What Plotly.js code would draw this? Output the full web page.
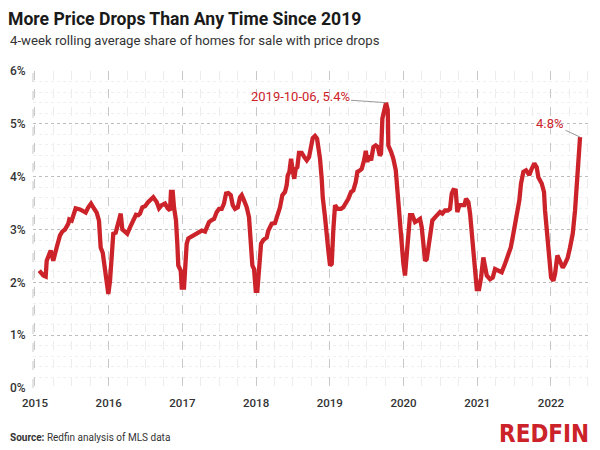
<!DOCTYPE html>
<html>
<head>
<meta charset="utf-8">
<script src="https://cdn.plot.ly/plotly-3.0.1.min.js"></script>
<style>html,body{margin:0;padding:0;background:#fff;}#chart{width:600px;height:450px;}</style>
</head>
<body>
<div id="chart"></div>
<script>
// Decimal year of each reading and share of homes with price drops (%)
const years = [
2015.058,2015.113,2015.145,2015.159,2015.213,2015.248,2015.294,2015.339,2015.370,2015.407,
2015.452,2015.465,2015.498,2015.520,2015.552,2015.611,2015.655,2015.688,2015.723,2015.760,
2015.791,2015.837,2015.868,2015.891,2015.919,2015.950,2015.973,2015.995,2016.018,2016.041,
2016.062,2016.095,2016.130,2016.163,2016.185,2016.221,2016.252,2016.289,2016.334,2016.370,
2016.402,2016.425,2016.456,2016.493,2016.537,2016.605,2016.651,2016.683,2016.719,2016.764,
2016.801,2016.832,2016.845,2016.869,2016.886,2016.913,2016.931,2016.944,2016.977,2016.991,
2017.022,2017.045,2017.058,2017.080,2017.126,2017.171,2017.216,2017.262,2017.307,2017.330,
2017.361,2017.398,2017.429,2017.466,2017.497,2017.533,2017.564,2017.592,2017.623,2017.656,
2017.683,2017.714,2017.751,2017.782,2017.805,2017.836,2017.873,2017.904,2017.931,2017.949,
2017.972,2017.995,2018.017,2018.039,2018.067,2018.098,2018.144,2018.166,2018.212,2018.256,
2018.293,2018.324,2018.356,2018.392,2018.415,2018.429,2018.451,2018.474,2018.497,2018.518,
2018.537,2018.559,2018.582,2018.619,2018.654,2018.687,2018.718,2018.745,2018.768,2018.799,
2018.827,2018.844,2018.867,2018.890,2018.904,2018.935,2018.958,2018.980,2019.003,2019.026,
2019.047,2019.071,2019.107,2019.152,2019.183,2019.216,2019.251,2019.288,2019.319,2019.352,
2019.374,2019.410,2019.433,2019.465,2019.488,2019.509,2019.532,2019.560,2019.591,2019.623,
2019.651,2019.678,2019.695,2019.713,2019.740,2019.763,2019.786,2019.794,2019.831,2019.862,
2019.895,2019.917,2019.940,2019.967,2019.998,2020.020,2020.043,2020.065,2020.088,2020.120,
2020.156,2020.193,2020.224,2020.247,2020.269,2020.292,2020.315,2020.337,2020.369,2020.391,
2020.427,2020.464,2020.495,2020.527,2020.563,2020.600,2020.631,2020.654,2020.676,2020.708,
2020.730,2020.758,2020.790,2020.825,2020.848,2020.880,2020.903,2020.926,2020.948,2020.971,
2020.994,2021.025,2021.052,2021.083,2021.106,2021.129,2021.174,2021.210,2021.242,2021.287,
2021.332,2021.377,2021.422,2021.455,2021.490,2021.536,2021.571,2021.594,2021.626,2021.662,
2021.707,2021.739,2021.775,2021.807,2021.829,2021.875,2021.906,2021.920,2021.951,2021.978,
2022.002,2022.033,2022.056,2022.087,2022.124,2022.161,2022.191,2022.228,2022.259,2022.296,
2022.327,2022.358,2022.395
];
const shares = [
2.22,2.13,2.11,2.41,2.60,2.41,2.66,2.89,2.96,3.00,
3.11,3.19,3.17,3.27,3.40,3.38,3.34,3.32,3.42,3.49,
3.42,3.32,3.17,2.66,2.56,2.28,2.03,1.78,2.03,2.54,
2.92,2.94,3.17,3.30,3.00,2.96,2.92,3.04,3.19,3.28,
3.27,3.30,3.42,3.44,3.52,3.61,3.52,3.40,3.46,3.49,
3.40,3.36,3.71,3.71,3.42,3.17,2.73,2.32,2.22,1.90,
1.90,2.35,2.73,2.83,2.87,2.90,2.95,2.98,2.96,3.03,
3.14,3.18,3.20,3.33,3.39,3.39,3.49,3.68,3.69,3.65,
3.46,3.39,3.42,3.61,3.65,3.55,3.42,3.23,2.79,2.32,
2.25,1.84,1.84,2.35,2.73,2.80,2.85,2.98,3.11,3.12,
3.27,3.42,3.65,3.71,3.84,4.02,4.09,4.34,4.12,3.96,
4.15,4.18,4.45,4.45,4.37,4.31,4.37,4.56,4.73,4.77,
4.72,4.56,4.34,3.96,3.61,3.23,2.98,2.60,2.32,2.35,
2.98,3.46,3.39,3.39,3.42,3.49,3.58,3.71,3.74,3.90,
4.09,4.12,4.15,4.31,4.49,4.28,4.40,4.31,4.56,4.59,
4.56,4.40,4.44,5.10,5.32,5.40,5.26,4.59,4.47,4.34,
4.12,3.74,3.30,2.79,2.35,2.13,2.47,2.98,3.27,3.27,
3.14,3.17,3.20,3.04,2.66,2.41,2.44,2.66,2.98,3.17,
3.23,3.30,3.33,3.30,3.36,3.36,3.39,3.68,3.75,3.74,
3.33,3.46,3.46,3.46,3.58,3.52,3.30,2.92,2.60,2.22,
1.87,1.87,2.09,2.47,2.32,2.13,2.06,2.09,2.25,2.22,
2.19,2.35,2.51,2.66,2.92,3.23,3.55,3.87,4.09,4.12,
4.03,4.15,4.25,4.18,3.99,3.87,3.71,3.36,2.92,2.54,
2.09,2.03,2.16,2.51,2.41,2.28,2.35,2.47,2.66,2.92,
3.36,3.99,4.75
];
const yearTicks = [2015, 2016, 2017, 2018, 2019, 2020, 2021, 2022];
const yearLabels = ["2015", "2016", "2017", "2018", "2019", "2020", "2021", "2022"];
const pctTicks = [0, 1, 2, 3, 4, 5, 6];
const pctLabels = ["0%", "1%", "2%", "3%", "4%", "5%", "6%"];
const peakLabel = "2019-10-06, 5.4%";
const lastLabel = "4.8%";

const red = "#cc2229";
const fontFam = "Roboto, 'Liberation Sans', sans-serif";

const trace = {
  x: years, y: shares, type: "scatter", mode: "lines",
  line: {color: red, width: 4.3, shape: "linear"},
  hoverinfo: "skip"
};

const peakIdx = shares.indexOf(Math.max(...shares));
const lastIdx = shares.length - 1;

const layout = {
  width: 600, height: 450,
  margin: {l: 33, r: 10, t: 71, b: 62},
  paper_bgcolor: "#fff", plot_bgcolor: "#fff",
  showlegend: false,
  font: {family: fontFam, color: "#333"},
  title: {
    text: "<b>More Price Drops Than Any Time Since 2019</b>",
    font: {family: fontFam, size: 17.6, color: "#1a1a1a"},
    xref: "container", yref: "container",
    x: 8/600, xanchor: "left", y: 1 - 19/450, yanchor: "middle"
  },
  xaxis: {
    range: [2014.973, 2022.53],
    tickvals: yearTicks, ticktext: yearLabels,
    showgrid: true, gridcolor: "#c8c8c8", griddash: "dash", gridwidth: 1,
    zeroline: false, showline: false,
    ticks: "outside", ticklen: 4, tickcolor: "rgba(0,0,0,0)",
    tickfont: {family: fontFam, size: 11.5, color: "#333", weight: 500},
    minor: {dtick: 0.25, tick0: 2015, showgrid: true, gridcolor: "#ececec", gridwidth: 1, ticks: ""},
    fixedrange: true
  },
  yaxis: {
    range: [0, 6],
    tickvals: pctTicks, ticktext: pctLabels,
    showgrid: true, gridcolor: "#bdbdbd", griddash: "dot", gridwidth: 1,
    zeroline: false, showline: false,
    ticks: "outside", ticklen: 4, tickcolor: "rgba(0,0,0,0)",
    tickfont: {family: fontFam, size: 12, color: "#333", weight: 500},
    minor: {dtick: 0.2, showgrid: true, gridcolor: "#f0f0f0", gridwidth: 1, ticks: ""},
    fixedrange: true
  },
  shapes: [
    {type: "line", xref: "paper", yref: "paper", x0: 0, x1: 0, y0: 0, y1: 1,
     line: {color: "#c8c8c8", width: 1, dash: "dash"}}
  ],
  annotations: [
    {xref: "paper", yref: "paper", x: -25/557, y: (388-41)/317, xanchor: "left", yanchor: "middle",
     text: "4-week rolling average share of homes for sale with price drops", showarrow: false,
     font: {family: fontFam, size: 13.2, color: "#333"}},
    {x: years[peakIdx], y: shares[peakIdx], text: peakLabel, showarrow: true,
     arrowhead: 0, arrowwidth: 1, arrowcolor: "#999", ax: -86, ay: -6,
     font: {family: fontFam, size: 13, color: red}},
    {x: years[lastIdx], y: shares[lastIdx], text: lastLabel, showarrow: true,
     arrowhead: 0, arrowwidth: 1, arrowcolor: "#999", ax: -30, ay: -14,
     font: {family: fontFam, size: 13, color: red}},
    {xref: "paper", yref: "paper", x: -25/557, y: (388-437)/317, xanchor: "left", yanchor: "middle",
     text: "<b>Source:</b> Redfin analysis of MLS data", showarrow: false,
     font: {family: fontFam, size: 10, color: "#333"}},
    {xref: "paper", yref: "paper", x: 1, y: (388-434)/317, xanchor: "right", yanchor: "middle",
     text: "<b>REDFIN</b>", showarrow: false, borderpad: 0,
     font: {family: "'Liberation Sans Narrow', 'DejaVu Sans Condensed', sans-serif", size: 24, color: red}}
  ]
};

Plotly.newPlot("chart", [trace], layout, {displayModeBar: false, staticPlot: true});
</script>
</body>
</html>
